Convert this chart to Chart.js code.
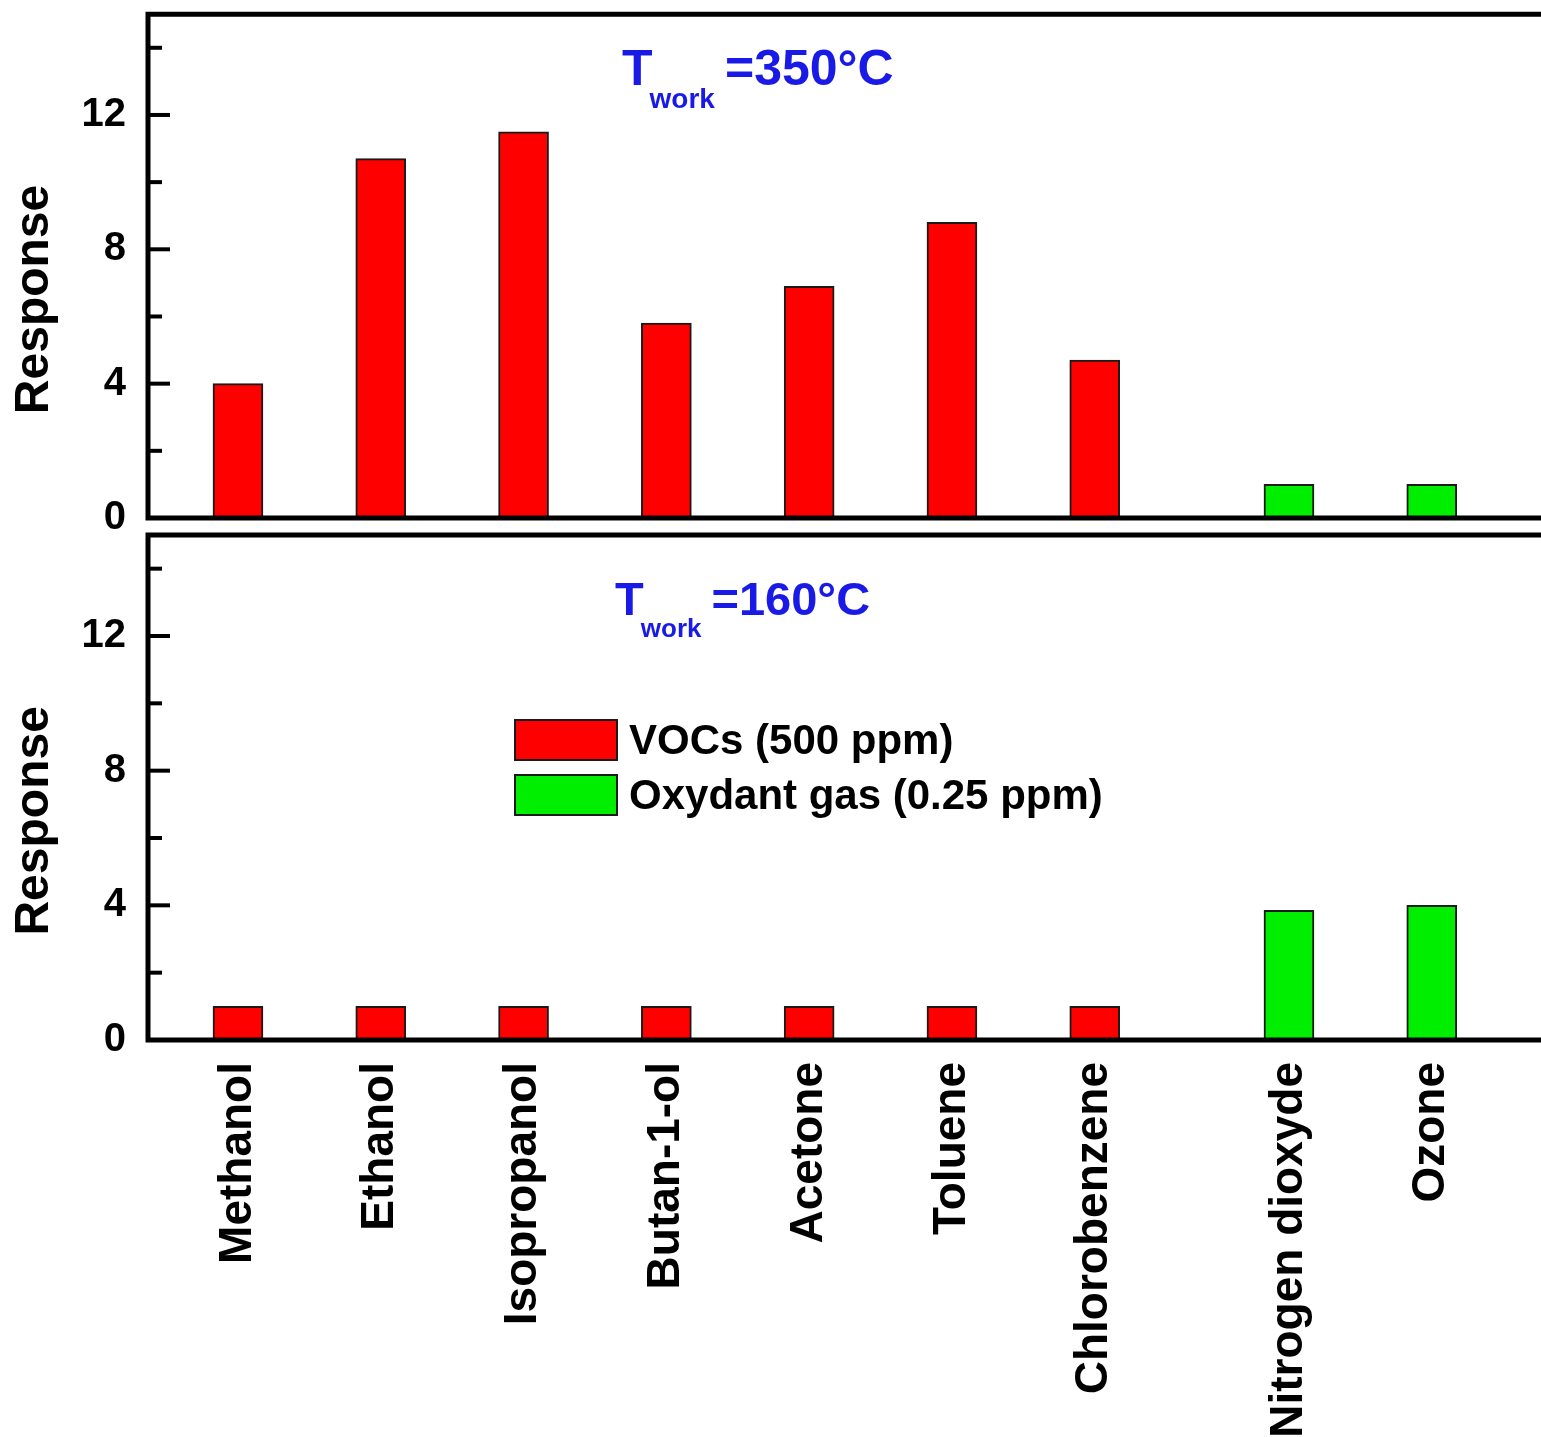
<!DOCTYPE html>
<html>
<head>
<meta charset="utf-8">
<script src="https://cdn.jsdelivr.net/npm/chart.js@4.4.0/dist/chart.umd.min.js"></script>
<style>
  body { margin: 0; background: #fff; }
  #wrap { position: relative; width: 1541px; height: 1437px; }
  canvas { position: absolute; left: 0; top: 0; }
</style>
</head>
<body>
<div id="wrap">
  <canvas id="topChart" width="1541" height="1437"></canvas>
  <canvas id="bottomChart" width="1541" height="1437"></canvas>
</div>
<script>
// gases along the x axis (oxidants sit a bit further right)
var gasNames = ['Methanol', 'Ethanol', 'Isopropanol', 'Butan-1-ol', 'Acetone', 'Toluene', 'Chlorobenzene', 'Nitrogen dioxyde', 'Ozone']
var gasPos = [1, 2, 3, 4, 5, 6, 7, 8.36, 9.36]
var vocPos = [1, 2, 3, 4, 5, 6, 7]
var oxPos = [8.36, 9.36]

// response at 350°C
var vocTop = [4.0, 10.7, 11.5, 5.8, 6.9, 8.8, 4.7]
var oxTop = [1.0, 1.0]

// response at 160°C
var vocBottom = [1.0, 1.0, 1.0, 1.0, 1.0, 1.0, 1.0]
var oxBottom = [3.85, 4.0]

var yTicks = [0, 4, 8, 12]
var seriesLabels = ['VOCs (500 ppm)', 'Oxydant gas (0.25 ppm)']

var FONT = "'Liberation Sans', Arial, sans-serif"
var RED = '#ff0000'
var GREEN = '#00ee00'
var BLUE = '#1a1ae6'

function toPoints(xs, ys) {
    return xs.map(function (x, i) { return { x: x, y: ys[i] } })
}

function makeDatasets(voc, ox) {
    var common = { barThickness: 50, grouped: false, borderWidth: 2, borderColor: '#1a1a1a' }
    return [
        Object.assign({ label: seriesLabels[0], data: toPoints(vocPos, voc), backgroundColor: RED }, common),
        Object.assign({ label: seriesLabels[1], data: toPoints(oxPos, ox), backgroundColor: GREEN }, common)
    ]
}

// frame (top, left, bottom) + inward ticks on the left axis
var framePlugin = {
    id: 'frame',
    afterDatasetsDraw(chart) {
        var ctx = chart.ctx, a = chart.chartArea, ys = chart.scales.y
        ctx.save()
        ctx.strokeStyle = '#000'
        ctx.lineWidth = 5
        ctx.beginPath()
        ctx.moveTo(chart.width + 5, a.top)
        ctx.lineTo(a.left, a.top)
        ctx.lineTo(a.left, a.bottom)
        ctx.lineTo(chart.width + 5, a.bottom)
        ctx.stroke()
        ctx.lineWidth = 4
        for (var v = 2; v < ys.max; v += 2) {
            var py = ys.getPixelForValue(v)
            var len = v % 4 === 0 ? 22 : 14
            ctx.beginPath()
            ctx.moveTo(a.left, py)
            ctx.lineTo(a.left + len, py)
            ctx.stroke()
        }
        ctx.restore()
    }
}

// "T_work = ...°C" note
var tempPlugin = {
    id: 'tempNote',
    afterDraw(chart, args, opts) {
        if (!opts.text) return
        var ctx = chart.ctx
        var x = chart.scales.x.getPixelForValue(opts.x)
        var y = chart.scales.y.getPixelForValue(opts.y)
        var size = opts.size
        ctx.save()
        ctx.fillStyle = BLUE
        ctx.textBaseline = 'alphabetic'
        ctx.textAlign = 'left'
        ctx.font = 'bold ' + size + 'px ' + FONT
        ctx.fillText('T', x, y)
        var tw = ctx.measureText('T').width
        ctx.font = 'bold ' + Math.round(size * 0.55) + 'px ' + FONT
        var sx = x + tw * 0.9
        ctx.fillText('work', sx, y + size * 0.47)
        var ww = ctx.measureText('work').width
        ctx.font = 'bold ' + size + 'px ' + FONT
        ctx.fillText('=' + opts.text, sx + ww + 10, y)
        ctx.restore()
    }
}

// legend drawn inside the lower panel
var boxLegendPlugin = {
    id: 'boxLegend',
    afterDraw(chart, args, opts) {
        if (!opts.show) return
        var ctx = chart.ctx, a = chart.chartArea
        var left = a.left + opts.dx, top = a.top + opts.dy
        ctx.save()
        ctx.font = 'bold 42px ' + FONT
        ctx.textBaseline = 'middle'
        chart.data.datasets.forEach(function (ds, i) {
            var ty = top + i * 55
            ctx.fillStyle = ds.backgroundColor
            ctx.fillRect(left, ty, 102, 40)
            ctx.strokeStyle = '#1a1a1a'
            ctx.lineWidth = 2
            ctx.strokeRect(left, ty, 102, 40)
            ctx.fillStyle = '#000'
            ctx.fillText(ds.label, left + 114, ty + 22)
        })
        ctx.restore()
    }
}

function yScale() {
    return {
        min: 0,
        max: 15,
        afterBuildTicks: function (s) { s.ticks = yTicks.map(function (v) { return { value: v } }) },
        afterFit: function (s) { s.width = 148 },
        grid: { display: false },
        border: { display: false },
        // tiny lineHeight keeps the label box from pushing the plot area down
        ticks: { color: '#000', padding: 14, font: { family: FONT, size: 40, weight: 'bold', lineHeight: 0.01 } },
        title: {
            display: true,
            // trailing no-break spaces nudge the centred title a little lower, as in the original
            text: 'Response\u00a0\u00a0\u00a0\u00a0\u00a0',
            color: '#000',
            padding: { top: 6, bottom: 0 },
            font: { family: FONT, size: 48, weight: 'bold' }
        }
    }
}

function xScale(showLabels) {
    return {
        type: 'linear',
        min: 0.37,
        max: 10.125,
        offset: false,
        display: showLabels,
        afterBuildTicks: function (s) { s.ticks = gasPos.map(function (v) { return { value: v } }) },
        afterFit: function (s) { s.height = showLabels ? 397 : 0 },
        grid: { display: false },
        border: { display: false },
        ticks: {
            color: '#000',
            autoSkip: false,
            minRotation: 90,
            maxRotation: 90,
            padding: 14,
            font: { family: FONT, size: 46, weight: 'bold' },
            callback: function (v, i) { return gasNames[i] }
        }
    }
}

function makeChart(id, voc, ox, pad, note, legend, showLabels) {
    var ctx = document.getElementById(id).getContext('2d')
    return new Chart(ctx, {
        type: 'bar',
        data: { datasets: makeDatasets(voc, ox) },
        options: {
            responsive: false,
            animation: false,
            devicePixelRatio: 1,
            layout: { padding: pad },
            scales: { x: xScale(showLabels), y: yScale() },
            plugins: {
                legend: { display: false },
                tooltip: { enabled: false },
                tempNote: note,
                boxLegend: legend
            }
        },
        plugins: [framePlugin, tempPlugin, boxLegendPlugin]
    })
}

function initCharts() {
    makeChart('topChart', vocTop, oxTop, { top: 14, bottom: 1437 - 518, left: 0, right: 0 },
        { text: '350°C', x: 3.69, y: 12.9, size: 50 }, { show: false }, false)
    makeChart('bottomChart', vocBottom, oxBottom, { top: 535, bottom: 0, left: 0, right: 0 },
        { text: '160°C', x: 3.64, y: 12.62, size: 47 }, { show: true, dx: 367, dy: 185 }, true)
}

document.addEventListener('DOMContentLoaded', initCharts)
</script>
</body>
</html>
